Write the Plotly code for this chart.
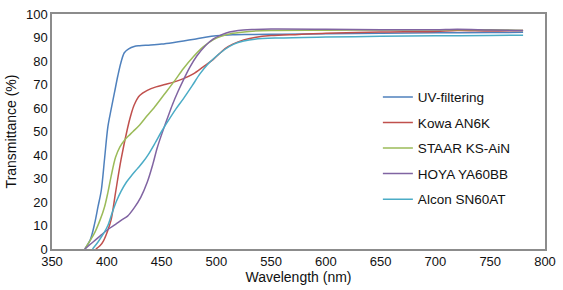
import plotly.graph_objects as go

# ---- data ----
uv_nm = [380, 385, 389, 392, 395, 398, 401, 404, 407, 410, 413, 416, 420, 425, 430, 440, 450, 460, 470,
         480, 490, 500, 515, 530, 560, 600, 650, 700, 750, 780]
uv_t = [0, 4, 11, 18, 25, 38.5, 52, 59.5, 66.5, 73.5, 79.5, 83.5, 85.2, 86.2, 86.5, 86.8, 87.2, 87.8, 88.5,
        89.3, 90.1, 90.7, 91.2, 91.3, 91.4, 91.6, 91.8, 92.0, 92.1, 92.2]

kowa_nm = [390, 394, 397, 401, 404, 408, 413, 419, 422, 425, 430, 437, 445, 453, 461, 470, 479, 488, 497,
           508, 515, 525, 535, 550, 575, 600, 650, 700, 720, 750, 780]
kowa_t = [0, 1.5, 3.5, 8, 12.5, 24, 38, 51.5, 57, 61.3, 65.3, 67.5, 69, 70, 71, 72.5, 74.5, 77.5, 80.6,
          85.3, 87.2, 89, 90, 90.8, 91.3, 91.8, 92.3, 92.6, 93, 92.8, 93]

staar_nm = [380, 384, 389, 394, 398, 401, 404, 408, 412, 416, 420, 424, 430, 437, 443, 452, 461, 470, 479,
            488, 497, 505, 515, 530, 550, 600, 650, 700, 750, 780]
staar_t = [0, 3, 7, 12.5, 18, 24, 31, 39, 43.5, 46.2, 48.2, 50, 52.8, 56.8, 60, 65.5, 71, 76.8, 81.8,
           86, 89, 90.6, 91.8, 92.6, 93, 93.1, 93.2, 93.2, 93.3, 93]

hoya_nm = [380, 385, 390, 395, 401, 408, 414, 419, 425, 431, 437, 442, 446, 451, 456, 460, 465, 470, 476,
           482, 490, 497, 505, 512, 520, 535, 550, 600, 650, 700, 720, 750, 780]
hoya_t = [0, 2, 4, 6, 8.3, 10.5, 12.5, 14, 17.5, 22, 28.5, 36, 43, 50, 56.5, 61.5, 67, 72, 77.5,
          82, 86.5, 89.3, 91.2, 92.3, 93, 93.4, 93.6, 93.5, 93.3, 93.3, 93.5, 93.2, 93]

alcon_nm = [387, 392, 397, 401, 405, 409, 413, 418, 423, 428, 433, 438, 444, 450, 456, 463, 470, 478, 485,
            492, 500, 508, 516, 525, 535, 556, 600, 650, 700, 750, 780]
alcon_t = [0, 3, 6.5, 10, 15.5, 20.5, 24.5, 28.5, 31.5, 34.2, 37, 40.3, 45, 50, 54.5, 59.5, 64, 69.5, 74.5,
           78.5, 82, 85, 87.2, 88.5, 89.3, 89.8, 90.2, 90.5, 90.7, 90.9, 91]

series_names = ["UV-filtering", "Kowa AN6K", "STAAR KS-AiN", "HOYA YA60BB", "Alcon SN60AT"]
series_x = [uv_nm, kowa_nm, staar_nm, hoya_nm, alcon_nm]
series_y = [uv_t, kowa_t, staar_t, hoya_t, alcon_t]
colors = ["#4F81BD", "#C0504D", "#9BBB59", "#8064A2", "#4BACC6"]

x_ticks = [350, 400, 450, 500, 550, 600, 650, 700, 750, 800]
y_ticks = [0, 10, 20, 30, 40, 50, 60, 70, 80, 90, 100]

FONT = "Liberation Sans, Arial, sans-serif"

fig = go.Figure()
for i, (name, xs, ys, c) in enumerate(zip(series_names, series_x, series_y, colors)):
    fig.add_trace(go.Scatter(
        x=xs, y=ys, mode="lines", name=name, legendgroup=f"g{i}",
        line=dict(color=c, width=1.5, shape="spline", smoothing=0.9),
    ))

axis_common = dict(showline=True, linecolor="#8c8c8c", linewidth=1.5, mirror=True,
                   showgrid=False, zeroline=False, ticks="",
                   tickfont=dict(family=FONT, size=13, color="#111"))

fig.update_layout(
    width=563, height=290,
    margin=dict(l=52, r=13, t=7, b=38),
    paper_bgcolor="white", plot_bgcolor="white",
    font=dict(family=FONT, color="#111"),
    xaxis=dict(range=[350, 800], tickvals=x_ticks,
               title=dict(text="Wavelength (nm)", font=dict(family=FONT, size=14), standoff=4),
               **axis_common),
    yaxis=dict(range=[0, 100], tickvals=y_ticks,
               title=dict(text="Transmittance (%)", font=dict(family=FONT, size=14), standoff=6),
               **axis_common),
    legend=dict(x=0.661, y=0.712, xanchor="left", yanchor="top",
                bgcolor="rgba(0,0,0,0)", font=dict(family=FONT, size=13.5, color="#111"),
                tracegroupgap=5, traceorder="grouped"),
    showlegend=True,
)

fig.write_html("out.html", config={"displayModeBar": False},
               post_script="document.body.style.margin='0';document.body.style.padding='0';")
